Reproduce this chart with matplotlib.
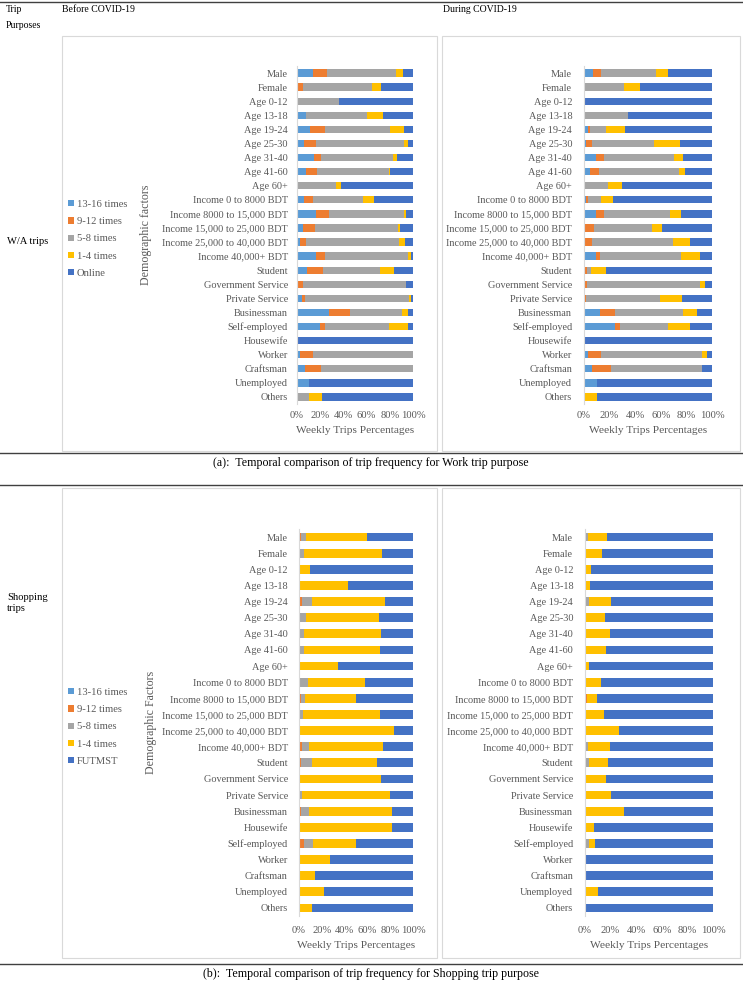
import numpy as np
import matplotlib
matplotlib.use('Agg')
import matplotlib.pyplot as plt
from matplotlib.lines import Line2D
from matplotlib.patches import Rectangle, Patch

plt.rcParams['font.family'] = ['Liberation Serif', 'DejaVu Serif']

W, H = 743, 981

cats_work = ['Male', 'Female', 'Age 0-12', 'Age 13-18', 'Age 19-24', 'Age 25-30',
             'Age 31-40', 'Age 41-60', 'Age 60+', 'Income 0 to 8000 BDT',
             'Income 8000 to 15,000 BDT', 'Income 15,000 to 25,000 BDT',
             'Income 25,000 to 40,000 BDT', 'Income 40,000+ BDT', 'Student',
             'Government Service', 'Private Service', 'Businessman', 'Self-employed',
             'Housewife', 'Worker', 'Craftsman', 'Unemployed', 'Others']
cats_shop = ['Male', 'Female', 'Age 0-12', 'Age 13-18', 'Age 19-24', 'Age 25-30',
             'Age 31-40', 'Age 41-60', 'Age 60+', 'Income 0 to 8000 BDT',
             'Income 8000 to 15,000 BDT', 'Income 15,000 to 25,000 BDT',
             'Income 25,000 to 40,000 BDT', 'Income 40,000+ BDT', 'Student',
             'Government Service', 'Private Service', 'Businessman', 'Housewife',
             'Self-employed', 'Worker', 'Craftsman', 'Unemployed', 'Others']

# work trips, before covid
wb_1316 = [14, 1, 0, 8, 11, 6, 14.5, 7.5, 0, 6, 16, 5.5, 2.5, 16, 8.5, 0, 4, 28, 20, 0, 3, 6.5, 10.5, 0]
wb_912 = [12, 4, 0, 0, 13, 10, 6.5, 10, 0, 8, 12, 10, 5.5, 8.5, 13.5, 5, 3, 18, 4.5, 0, 10.5, 14, 0, 0]
wb_58 = [59, 60, 36, 52, 56, 76.5, 61.5, 61.5, 34, 42.5, 64, 71.5, 80, 71, 49.5, 89, 89.5, 44.5, 54.5, 0, 86.5, 79.5, 0, 10.5]
wb_14 = [6, 7, 0, 14, 12, 3.5, 3.5, 1.5, 4, 10, 2, 1.5, 5, 2.5, 12, 0, 2, 5, 16.5, 0, 0, 0, 0, 11]
wb_onl = [9, 28, 64, 26, 8, 4, 14, 19.5, 62, 33.5, 6, 11.5, 7, 2, 16.5, 6, 1.5, 4.5, 4.5, 100, 0, 0, 89.5, 78.5]

# work trips, during covid
wd_1316 = [7, 0, 0, 0, 3, 1.5, 9.5, 4.5, 0, 1.5, 9.5, 0, 1, 9.5, 0, 0, 0, 12.5, 24.5, 0, 3, 6.5, 10.5, 0]
wd_912 = [6, 1, 0, 0, 2, 5, 6, 7.5, 0, 2, 6, 7.5, 5.5, 3, 2.5, 2.5, 1.5, 11.5, 4, 0, 10.5, 14.5, 0, 0]
wd_58 = [43.5, 30.5, 0, 34.5, 12.5, 48.5, 54.5, 62.5, 19, 9.5, 52, 46, 63, 63.5, 3, 88.5, 58, 53.5, 37.5, 0, 79, 71.5, 0, 0]
wd_14 = [9, 12, 0, 0, 14.5, 20, 7, 4.5, 11, 9.5, 8, 7.5, 13.5, 14.5, 12, 3.5, 17, 11, 16.5, 0, 3.5, 0, 0, 10.5]
wd_onl = [34.5, 56.5, 100, 65.5, 68, 25, 23, 21, 70, 77.5, 24.5, 39, 17, 9.5, 82.5, 5.5, 23.5, 11.5, 17.5, 100, 4, 7.5, 89.5, 89.5]

# shopping trips, before covid
sb_1316 = [0, 0, 0, 0, 0, 0, 0, 0, 0, 0, 0, 0, 0, 0, 0, 0, 0, 0, 0, 0, 0, 0, 0, 0]
sb_912 = [1.5, 0, 0, 0, 2.5, 0, 1, 1, 0, 1, 2, 0, 0, 2.5, 2, 0, 0, 2, 0, 4, 0, 0, 0, 0]
sb_58 = [4.5, 4.5, 0, 0, 9, 6, 3, 3, 0, 6.5, 3.5, 3.5, 0, 6.5, 9.5, 0, 3, 6.5, 0, 8, 0, 0, 0, 0]
sb_14 = [54, 68, 10, 43, 64, 64.5, 68, 67, 34.5, 50.5, 44.5, 67.5, 83.5, 64.5, 57, 72, 76.5, 73.5, 82, 38, 27.5, 14, 22, 11]
sb_fut = [40, 27.5, 90, 57, 24.5, 29.5, 28, 29, 65.5, 42, 50, 29, 16.5, 26.5, 31.5, 28, 20.5, 18, 18, 50, 72.5, 86, 78, 89]

# shopping trips, during covid
sd_1316 = [0, 0, 0, 0, 0, 0, 0, 0, 0, 0, 0, 0, 0, 0, 0, 0, 0, 0, 0, 0, 0, 0, 0, 0]
sd_912 = [0, 0, 0, 0, 0, 0, 0, 0, 0, 0, 1.5, 0, 0, 0, 0, 0, 0, 0, 0, 0, 0, 0, 0, 0]
sd_58 = [2, 0, 0, 0, 3, 0, 0, 0, 0, 0, 0, 0, 0, 2.5, 3, 0, 0, 0, 0, 3.5, 0, 0, 0, 0]
sd_14 = [15.5, 13.5, 5, 4, 17, 15.5, 19.5, 16.5, 3.5, 12.5, 8, 15, 26.5, 17, 15, 16.5, 20, 30.5, 7, 4.5, 0, 0, 10.5, 0]
sd_fut = [82.5, 86.5, 95, 96, 80, 84.5, 80.5, 83.5, 96.5, 87.5, 90.5, 85, 73.5, 80.5, 82, 83.5, 80, 69.5, 93, 92, 100, 100, 89.5, 100]

colors = ['#5B9BD5', '#ED7D31', '#A5A5A5', '#FFC000', '#4472C4']
series_work = ['13-16 times', '9-12 times', '5-8 times', '1-4 times', 'Online']
series_shop = ['13-16 times', '9-12 times', '5-8 times', '1-4 times', 'FUTMST']
txt_gray = '#595959'
ticks = [0, 0.2, 0.4, 0.6, 0.8, 1.0]
tick_labels = ['0%', '20%', '40%', '60%', '80%', '100%']


def px(x, y, w, h):
    return [x / W, 1 - (y + h) / H, w / W, h / H]


def fx(x):
    return x / W


def fy(y):
    return 1 - y / H


def stacked(ax, cats, parts, bh, pad, xpad):
    vals = np.array(parts, dtype=float)
    vals = vals / vals.sum(axis=0)
    y = np.arange(len(cats))
    left = np.zeros(len(cats))
    for v, c in zip(vals, colors):
        ax.barh(y, v, left=left, height=bh, color=c, linewidth=0)
        left += v
    ax.set_xlim(0, 1)
    ax.set_ylim(len(cats) - 0.5, -0.5)
    ax.set_yticks(y)
    ax.set_yticklabels(cats)
    ax.set_xticks(ticks)
    ax.set_xticklabels(tick_labels)
    ax.tick_params(axis='y', length=0, pad=pad, labelsize=7.35, labelcolor=txt_gray)
    ax.tick_params(axis='x', length=0, pad=xpad, labelsize=7.6, labelcolor=txt_gray)
    for s in ['top', 'right', 'bottom']:
        ax.spines[s].set_visible(False)
    ax.spines['left'].set_color('#D9D9D9')
    ax.spines['left'].set_linewidth(0.8)
    ax.set_xlabel('Weekly Trips Percentages', fontsize=8.2, color=txt_gray, labelpad=4.5)


fig = plt.figure(figsize=(W / 100, H / 100), dpi=100)

# frames and rules
for (x0, y0, x1, y1) in [(62, 36, 437, 451), (442, 36, 740, 451),
                         (62, 488, 437, 958), (442, 488, 740, 958)]:
    fig.add_artist(Rectangle((fx(x0), fy(y1)), fx(x1) - fx(x0), fy(y0) - fy(y1),
                             transform=fig.transFigure, fill=False,
                             edgecolor='#D9D9D9', linewidth=0.8))
for yl in [2, 453, 485, 964]:
    fig.add_artist(Line2D([0, 1], [fy(yl), fy(yl)], transform=fig.transFigure,
                          color='#404040', linewidth=1.0))

# header
fig.text(fx(6), fy(10), 'Trip', fontsize=7, va='center')
fig.text(fx(6), fy(26), 'Purposes', fontsize=7, va='center')
fig.text(fx(62), fy(10), 'Before COVID-19', fontsize=7, va='center')
fig.text(fx(443), fy(10), 'During COVID-19', fontsize=7, va='center')
fig.text(fx(7), fy(241), 'W/A trips', fontsize=7.6, va='center')
fig.text(fx(7), fy(603), 'Shopping\ntrips', fontsize=7.6, va='center', linespacing=1.4)

# work panels
ax1 = fig.add_axes(px(297, 66, 116, 338))
stacked(ax1, cats_work, [wb_1316, wb_912, wb_58, wb_14, wb_onl], 0.52, 6.5, 5)
ax1.set_ylabel('Demographic factors', fontsize=8.6, color=txt_gray)
ax1.yaxis.set_label_coords((152 - 297) / 116, 0.5)

ax2 = fig.add_axes(px(584, 66, 128, 338))
stacked(ax2, cats_work, [wd_1316, wd_912, wd_58, wd_14, wd_onl], 0.52, 8.5, 5)

# shopping panels
ax3 = fig.add_axes(px(299, 529, 114, 387))
stacked(ax3, cats_shop, [sb_1316, sb_912, sb_58, sb_14, sb_fut], 0.54, 8, 7)
ax3.set_ylabel('Demographic Factors', fontsize=8.6, color=txt_gray)
ax3.yaxis.set_label_coords((157 - 299) / 114, 0.5)

ax4 = fig.add_axes(px(585, 529, 128, 387))
stacked(ax4, cats_shop, [sd_1316, sd_912, sd_58, sd_14, sd_fut], 0.54, 8.5, 7)

# legends
for names, ytop in [(series_work, 200), (series_shop, 688)]:
    handles = [Patch(facecolor=c, edgecolor='none') for c in colors]
    fig.legend(handles, names, loc='upper left', bbox_to_anchor=(fx(68), fy(ytop)),
               frameon=False, fontsize=7.6, handlelength=0.55, handleheight=0.55,
               handletextpad=0.3, labelspacing=0.78, labelcolor=txt_gray,
               borderpad=0, borderaxespad=0)

# captions
fig.text(fx(371), fy(463), '(a):  Temporal comparison of trip frequency for Work trip purpose',
         fontsize=8.6, ha='center', va='center')
fig.text(fx(371), fy(974), '(b):  Temporal comparison of trip frequency for Shopping trip purpose',
         fontsize=8.6, ha='center', va='center')

fig.savefig('out.png', dpi=100)
